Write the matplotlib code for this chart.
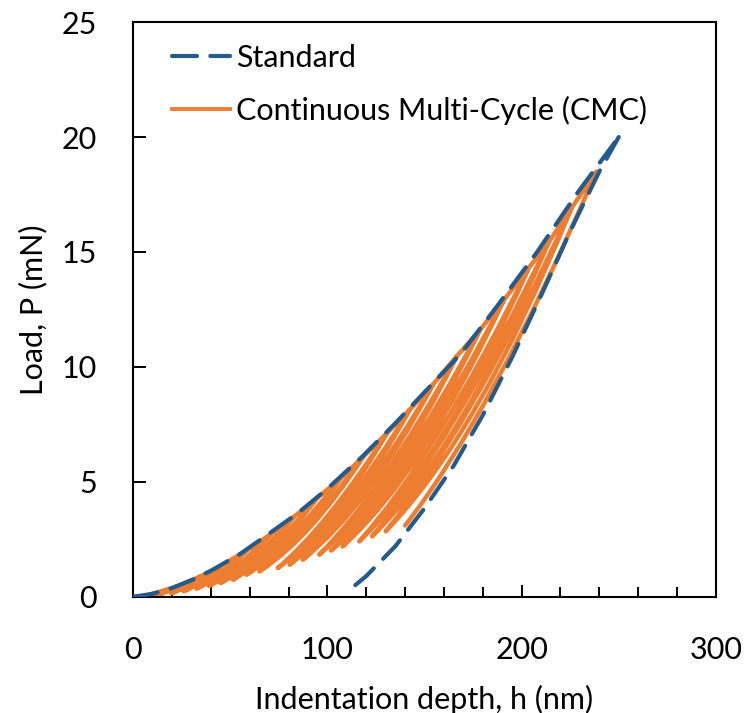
import matplotlib
matplotlib.use("Agg")
import matplotlib.pyplot as plt
from matplotlib.path import Path
from matplotlib.patches import PathPatch
from matplotlib.lines import Line2D
from matplotlib.ticker import MultipleLocator

plt.rcParams['font.family'] = ['Lato', 'DejaVu Sans']

# standard test
std_load_h = [0, 10, 20, 30, 40, 55, 70, 85, 100, 118, 135, 150, 169, 187, 208, 229, 250]
std_load_p = [0, 0.13, 0.38, 0.72, 1.13, 1.86, 2.75, 3.65, 4.7, 6.1, 7.55, 8.9, 10.6, 12.6, 15.0, 17.6, 20.0]
std_unload_h = [250, 240, 225, 210, 195, 180, 165, 150, 135, 120, 110]
std_unload_p = [20.0, 18.5, 15.9, 13.1, 10.4, 7.9, 5.7, 3.85, 2.2, 0.9, 0.2]

# CMC test: peak of each cycle and the point it unloads to
peak_h = [10.5, 22.5, 34.5, 46.5, 58.5, 70.5, 82.5, 94.5, 106.5, 118.5,
          130.5, 142.5, 154.5, 166.5, 178.5, 190.8, 203.6, 213.8, 225.6, 238.5]
peak_p = [0.14, 0.45, 0.88, 1.41, 2.02, 2.7, 3.46, 4.28, 5.12, 6.1,
          7.1, 8.15, 9.25, 10.45, 11.6, 12.9, 14.3, 15.4, 16.9, 18.5]
valley_h = [6, 12.5, 19.5, 26, 32.5, 39, 45, 51.3, 58.3, 65,
            74.5, 80.5, 87.3, 95.8, 101.9, 107.8, 116.4, 123, 130, 140]
valley_p = [0.025, 0.08, 0.15, 0.24, 0.35, 0.47, 0.6, 0.74, 0.96, 1.1,
            1.25, 1.39, 1.61, 1.83, 2.01, 2.19, 2.41, 2.63, 2.85, 3.1]

blue = '#245b8d'
orange = '#ed7d31'

fig = plt.figure(figsize=(7.48, 7.13), dpi=100)
ax = fig.add_axes([0.178, 0.163, 0.779, 0.806])

# CMC curve as one bezier path: load, unload, reload to old peak, load on
verts = [(0, 0), (peak_h[0] * 0.5, 0), (peak_h[0], peak_p[0])]
codes = [Path.MOVETO, Path.CURVE3, Path.CURVE3]
n = len(peak_h)
for i in range(n):
    dh = peak_h[i] - valley_h[i]
    dp = peak_p[i] - valley_p[i]
    down = (valley_h[i] + 0.45 * dh, valley_p[i] + 0.31 * dp)
    verts += [down, (valley_h[i], valley_p[i])]
    codes += [Path.CURVE3, Path.CURVE3]
    if i < n - 1:
        up = (valley_h[i] + 0.5 * dh, valley_p[i] + 0.295 * dp)
        verts += [up, (peak_h[i], peak_p[i]), (peak_h[i + 1], peak_p[i + 1])]
        codes += [Path.CURVE3, Path.CURVE3, Path.LINETO]
cmc = PathPatch(Path(verts, codes), facecolor='none', edgecolor=orange,
                lw=3.2, capstyle='round', joinstyle='round', zorder=2)
ax.add_patch(cmc)

dash = (0, (6, 3.2))
ax.plot(std_load_h, std_load_p, color=blue, lw=3, ls=dash,
        dash_capstyle='round', zorder=3)
ax.plot(std_unload_h, std_unload_p, color=blue, lw=3, ls=dash,
        dash_capstyle='round', zorder=3)

ax.set_xlim(0, 300)
ax.set_ylim(0, 25)
ax.xaxis.set_major_locator(MultipleLocator(100))
ax.xaxis.set_minor_locator(MultipleLocator(20))
ax.yaxis.set_major_locator(MultipleLocator(5))
ax.tick_params(axis='x', which='major', direction='in', length=8.5, width=1.4,
               labelsize=22, pad=28)
ax.tick_params(axis='x', which='minor', direction='in', length=7, width=1.4)
ax.tick_params(axis='y', which='major', direction='in', length=9, width=1.4,
               labelsize=22, pad=26)
for s in ax.spines.values():
    s.set_linewidth(1.5)

ax.set_xlabel('Indentation depth, h (nm)', fontsize=22, labelpad=15)
ax.set_ylabel('Load, P (mN)', fontsize=22, labelpad=10)

handles = [Line2D([], [], color=blue, lw=3, ls=dash, dash_capstyle='round'),
           Line2D([], [], color=orange, lw=2.8)]
ax.legend(handles, ['Standard', 'Continuous Multi-Cycle (CMC)'],
          loc='upper left', bbox_to_anchor=(0.066, 0.962), frameon=False,
          fontsize=22, borderpad=0, borderaxespad=0, handlelength=1.9,
          handletextpad=0.2, labelspacing=0.78)

fig.savefig('out.png', dpi=100)
